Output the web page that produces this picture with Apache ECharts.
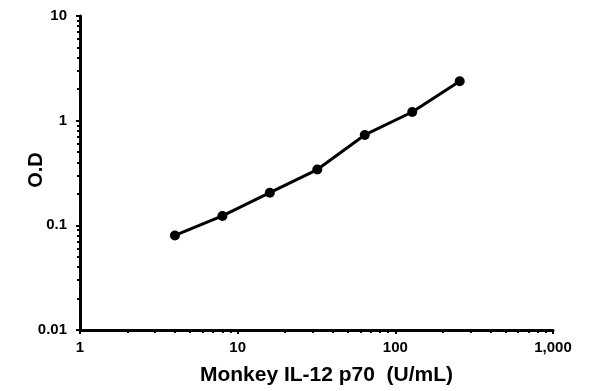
<!DOCTYPE html>
<html><head><meta charset="utf-8">
<script src="https://cdn.jsdelivr.net/npm/echarts@6/dist/echarts.min.js"></script>
<style>html,body{margin:0;padding:0;background:#fff}#c{width:596px;height:391px}</style>
</head><body><div id="c"></div>
<script>
const concentrations = [4, 8, 16, 32, 64, 128, 256];
const odValues = [0.080, 0.123, 0.205, 0.341, 0.73, 1.21, 2.38];
const xTickLabels = [1, 10, 100, 1000];
const yTickLabels = [0.01, 0.1, 1, 10];
const xMinorTicks = [2,3,4,5,6,7,8,9,20,30,40,50,60,70,80,90,200,300,400,500,600,700,800,900];
const yMinorTicks = [0.02,0.03,0.04,0.05,0.06,0.07,0.08,0.09,0.2,0.3,0.4,0.5,0.6,0.7,0.8,0.9,2,3,4,5,6,7,8,9];
const xTitle = 'Monkey IL-12 p70  (U/mL)';
const yTitle = 'O.D';

const font = 'Liberation Sans, Arial, sans-serif';
const chart = echarts.init(document.getElementById('c'), null, {renderer:'canvas'});
const data = concentrations.map((x,i)=>[x, odValues[i]]);
const fmtX = v => Number(v).toLocaleString('en-US');
const fmtY = v => String(+Number(v).toPrecision(6));
chart.setOption({
  animation:false,
  grid:{left:80,right:43,top:16,bottom:60},
  xAxis:[{
    type:'log', logBase:10, min:1, max:1000,
    name:xTitle, nameLocation:'middle', nameGap:35, nameMoveOverlap:false,
    nameTextStyle:{fontFamily:font,fontWeight:'bold',fontSize:21,color:'#000',padding:[0,0,0,20]},
    axisLine:{show:true,lineStyle:{color:'#000',width:3}},
    axisTick:{show:true,inside:false,length:4,lineStyle:{color:'#000',width:2},customValues:xTickLabels},
    axisLabel:{fontFamily:font,fontWeight:'bold',fontSize:15,color:'#000',margin:10,formatter:fmtX,customValues:xTickLabels},
    splitLine:{show:false}, minorTick:{show:false}
  },{
    type:'log', logBase:10, min:1, max:1000, position:'bottom', gridIndex:0,
    axisLine:{show:false},
    axisTick:{show:true,inside:false,length:3,lineStyle:{color:'#000',width:2},customValues:xMinorTicks},
    axisLabel:{show:false}, splitLine:{show:false}
  }],
  yAxis:[{
    type:'log', logBase:10, min:0.01, max:10,
    name:yTitle, nameLocation:'middle', nameGap:34, nameRotate:90, nameMoveOverlap:false,
    nameTextStyle:{fontFamily:font,fontWeight:'bold',fontSize:20,color:'#000',padding:[0,0,0,6]},
    axisLine:{show:true,lineStyle:{color:'#000',width:3}},
    axisTick:{show:true,inside:false,length:4,lineStyle:{color:'#000',width:2},customValues:yTickLabels},
    axisLabel:{fontFamily:font,fontWeight:'bold',fontSize:15,color:'#000',margin:13,formatter:fmtY,customValues:yTickLabels},
    splitLine:{show:false}
  },{
    type:'log', logBase:10, min:0.01, max:10, position:'left', gridIndex:0,
    axisLine:{show:false},
    axisTick:{show:true,inside:false,length:3,lineStyle:{color:'#000',width:2},customValues:yMinorTicks},
    axisLabel:{show:false}, splitLine:{show:false}
  }],
  series:[{
    type:'line', data:data, xAxisIndex:0, yAxisIndex:0,
    symbol:'circle', symbolSize:10,
    lineStyle:{color:'#000',width:3},
    itemStyle:{color:'#000'}
  }]
});
</script></body></html>
